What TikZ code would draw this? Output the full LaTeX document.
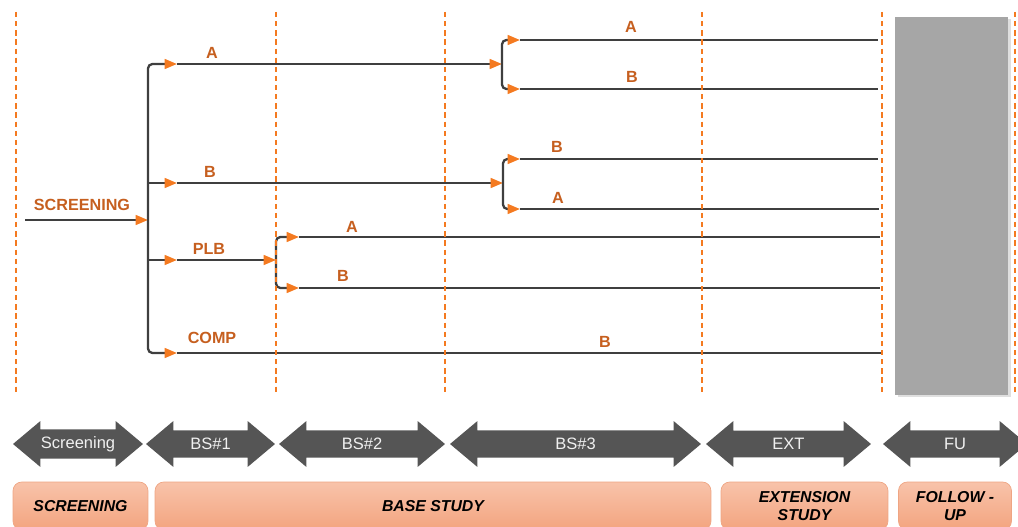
\documentclass[tikz,border=0pt]{standalone}
\usepackage{fontspec}
\setmainfont{Liberation Sans}
\usetikzlibrary{positioning, arrows.meta, shapes.arrows, shadows}
\definecolor{linegray}{HTML}{3F3F3F}
\definecolor{tiporange}{HTML}{F47A20}
\definecolor{lblorange}{HTML}{C65F1F}
\definecolor{arrowgray}{HTML}{555555}
\definecolor{fugray}{HTML}{A6A6A6}
\definecolor{boxtop}{HTML}{F8C3AA}
\definecolor{boxbottom}{HTML}{F3A47F}
\definecolor{boxedge}{HTML}{EFA583}
\tikzset{
    flow/.style={draw=linegray, line width=1.3pt, rounded corners=2.5pt}, % arm lines
    divider/.style={draw=tiporange, dash pattern=on 3pt off 2.2pt, line width=0.75pt},
    armlbl/.style={text=lblorange, font=\bfseries\fontsize{9.2}{10}\selectfont},
    phase/.style={double arrow, fill=arrowgray, text=gray!12, inner sep=1pt,
        minimum width=0.92cm, double arrow head extend=0.11cm,
        double arrow tip angle=80, font=\fontsize{9.4}{10}\selectfont},
    stage/.style={rounded corners=5pt, draw=boxedge, top color=boxtop,
        bottom color=boxbottom, minimum height=0.96cm, align=center,
        font=\bfseries\itshape\fontsize{9}{10}\selectfont},
}
\begin{document}
\begin{tikzpicture}[
    x=0.02cm, y=-0.02cm,
    >={Triangle[length=7pt, width=5.5pt, color=tiporange]},
    every node/.style={inner sep=1pt}
]
    \clip (0,0) rectangle (1018,527);

    % --- Junctions ---
    \coordinate (scr) at (25,220);
    \coordinate (j0) at (148,220);
    \coordinate (j1) at (502,64);
    \coordinate (j2) at (503,183);
    \coordinate (j3) at (276,260);

    % --- Arrow points on the arms ---
    \coordinate (tA) at (177,64);
    \coordinate (tB) at (177,183);
    \coordinate (tP) at (177,260);
    \coordinate (tC) at (177,353);
    \coordinate (tAA) at (520,40);
    \coordinate (tAB) at (520,89);
    \coordinate (tBB) at (520,159);
    \coordinate (tBA) at (520,209);
    \coordinate (tPA) at (299,237);
    \coordinate (tPB) at (299,288);

    % --- Arm ends ---
    \coordinate (eAA) at (878,40);
    \coordinate (eAB) at (878,89);
    \coordinate (eBB) at (878,159);
    \coordinate (eBA) at (879,209);
    \coordinate (ePA) at (880,237);
    \coordinate (ePB) at (880,288);
    \coordinate (eC) at (882,353);

    % --- Long arms ---
    \draw[flow] (tAA) -- (eAA);
    \draw[flow] (tAB) -- (eAB);
    \draw[flow] (tBB) -- (eBB);
    \draw[flow] (tBA) -- (eBA);
    \draw[flow] (tPA) -- (ePA);
    \draw[flow] (tPB) -- (ePB);
    \draw[flow] (tC) -- (eC);
    \draw[flow, ->] (tA) -- (j1);
    \draw[flow, ->] (tB) -- (j2);
    \draw[flow, ->] (tP) -- (j3);

    % --- Brackets ---
    \draw[flow, ->] (scr) -- (j0);
    \draw[flow, <->] (tA) -| (j0 |- tC) -- (tC);
    \draw[flow, ->] (j0 |- tB) -- (tB);
    \draw[flow, ->] (j0 |- tP) -- (tP);
    \draw[flow, <->] (tAA) -| (j1 |- tAB) -- (tAB);
    \draw[flow, <->] (tBB) -| (j2 |- tBA) -- (tBA);
    \draw[flow, <->] (tPA) -| (j3 |- tPB) -- (tPB);

    % --- Arm labels ---
    \node[armlbl] (lScr) at (82,205) {SCREENING};
    \node[armlbl] (lA) at (212,53) {A};
    \node[armlbl] (lB) at (210,172) {B};
    \node[armlbl] (lP) at (209,249) {PLB};
    \node[armlbl] (lC) at (212,338) {COMP};
    \node[armlbl] (lCB) at (605,342) {B};
    \node[armlbl] (lAA) at (631,27) {A};
    \node[armlbl] (lAB) at (632,77) {B};
    \node[armlbl] (lBB) at (557,147) {B};
    \node[armlbl] (lBA) at (558,198) {A};
    \node[armlbl] (lPA) at (352,227) {A};
    \node[armlbl] (lPB) at (343,276) {B};

    % --- Stage dividers ---
    \foreach \x in {16, 276, 445, 702, 882, 1015}
        \draw[divider] (\x,12) -- (\x,392);

    % --- Follow-up block ---
    \fill[fugray, drop shadow={opacity=0.25, shadow xshift=1.5pt, shadow yshift=-1pt}]
        (895,17) rectangle (1008,395);

    % --- Phase arrows ---
    \node[phase, minimum height=2.6cm] (pScr) at (78,444) {Screening};
    \node[phase, minimum height=2.58cm] (pBS1) at (210.5,444) {BS\#1};
    \node[phase, minimum height=3.32cm] (pBS2) at (362,444) {BS\#2};
    \node[phase, minimum height=5.02cm] (pBS3) at (575.5,444) {BS\#3};
    \node[phase, minimum height=3.3cm] (pExt) at (788.5,444) {EXT};
    \node[phase, minimum height=2.88cm] (pFU) at (955,444) {FU};

    % --- Study stages ---
    \node[stage, minimum width=2.7cm] (sScr) at (80.5,506) {SCREENING};
    \node[stage, minimum width=11.12cm] (sBase) at (433,506) {BASE STUDY};
    \node[stage, minimum width=3.34cm] (sExt) at (804.5,506) {EXTENSION\\STUDY};
    \node[stage, minimum width=2.26cm] (sFU) at (955,506) {FOLLOW -\\UP};
\end{tikzpicture}
\end{document}
